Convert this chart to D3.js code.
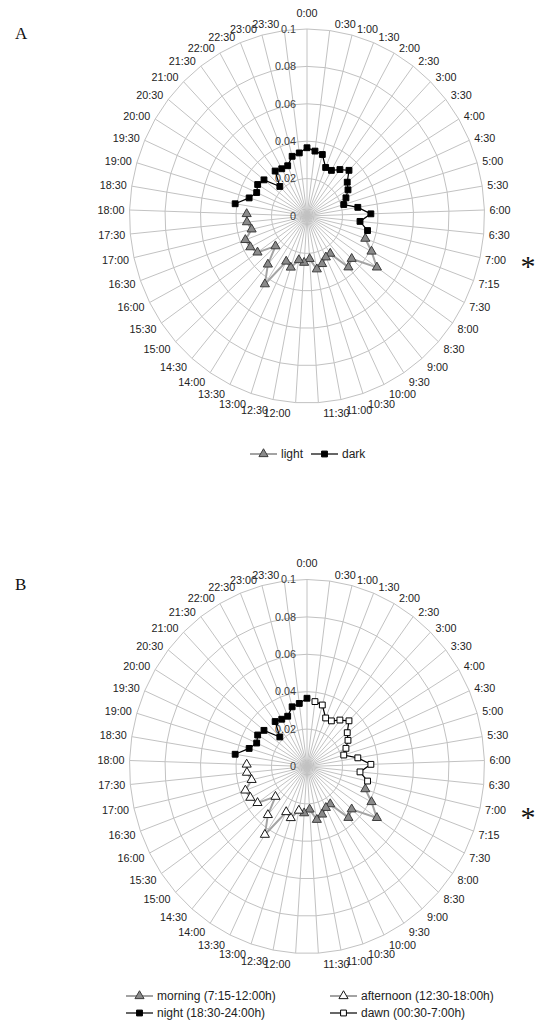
<!DOCTYPE html>
<html>
<head>
<meta charset="utf-8">
<script src="https://cdn.jsdelivr.net/npm/d3@7"></script>
<style>
	body { margin: 0; background: #fff; }
	svg { display: block; }
</style>
</head>
<body>
<div id="chart"></div>
<script>
// categories (half-hour bins, 7:15 extra)
const categories = ["0:00","0:30","1:00","1:30","2:00","2:30","3:00","3:30","4:00","4:30",
	"5:00","5:30","6:00","6:30","7:00","7:15","7:30","8:00","8:30","9:00","9:30","10:00",
	"10:30","11:00","11:30","12:00","12:30","13:00","13:30","14:00","14:30","15:00","15:30",
	"16:00","16:30","17:00","17:30","18:00","18:30","19:00","19:30","20:00","20:30","21:00",
	"21:30","22:00","22:30","23:00","23:30"];

// value per category
const values = [0.0365,0.035,0.034,0.028,0.028,0.031,0.034,0.029,0.027,0.024,
	0.0216,0.029,0.036,0.030,0.035,0.035,0.041,0.048,0.034,0.036,0.024,0.0245,
	0.027,0.029,0.023,0.025,0.024,0.029,0.027,0.0435,0.034,0.024,0.034,
	0.036,0.037,0.032,0.034,0.034,0.041,0.034,0.031,0.0325,0.031,0.022,
	0.030,0.029,0.029,0.033,0.034];

const ticks = [0, 0.02, 0.04, 0.06, 0.08, 0.1];
const tickLabels = ["0", "0.02", "0.04", "0.06", "0.08", "0.1"];

// series as category spans (wrapping past midnight)
const seriesA = [
	{ name: "light", from: "7:15", to: "18:00", style: "grayTri" },
	{ name: "dark", from: "18:30", to: "7:00", style: "blackSq" }
];
const seriesB = [
	{ name: "morning (7:15-12:00h)", from: "7:15", to: "12:00", style: "grayTri" },
	{ name: "afternoon (12:30-18:00h)", from: "12:30", to: "18:00", style: "whiteTri" },
	{ name: "night (18:30-24:00h)", from: "18:30", to: "0:00", style: "blackSq" },
	{ name: "dawn (00:30-7:00h)", from: "0:30", to: "7:00", style: "whiteSq" }
];

const STYLES = {
	grayTri:  { line: "#a3a3a3", lw: 2,   shape: d3.symbolTriangle, size: 36, fill: "#8a8a8a", stroke: "#3c3c3c" },
	whiteTri: { line: "#a3a3a3", lw: 2,   shape: d3.symbolTriangle, size: 36, fill: "#fff",    stroke: "#1a1a1a" },
	blackSq:  { line: "#000",    lw: 1.2, shape: d3.symbolSquare,   size: 34, fill: "#000",    stroke: "#000" },
	whiteSq:  { line: "#000",    lw: 1.2, shape: d3.symbolSquare,   size: 34, fill: "#fff",    stroke: "#000" }
};

const W = 538, H = 1024;
const FONT = "'Liberation Sans', Arial, sans-serif";

const svg = d3.select("#chart").append("svg")
	.attr("width", W)
	.attr("height", H)
	.attr("viewBox", `0 0 ${W} ${H}`);

const angle = d3.scalePoint()
	.domain(categories)
	.range([0, 2 * Math.PI * (categories.length - 1) / categories.length]);
// source image is slightly stretched vertically
const rX = d3.scaleLinear().domain([0, 0.1]).range([0, 177.5]);
const rY = d3.scaleLinear().domain([0, 0.1]).range([0, 187]);

function spanIdx(from, to) {
	const n = categories.length;
	let i = categories.indexOf(from);
	const end = categories.indexOf(to);
	const out = [i];
	while (i !== end) { i = (i + 1) % n; out.push(i); }
	return out;
}

function drawRadar(cx, cy, series) {
	const g = svg.append("g");
	const pt = (c, v) => {
		const a = angle(c);
		return [cx + rX(v) * Math.sin(a), cy - rY(v) * Math.cos(a)];
	};

	// rings
	g.selectAll(".ring")
		.data(ticks.filter(t => t > 0))
		.join("path")
		.attr("d", t => d3.line()(categories.map(c => pt(c, t))) + "Z")
		.attr("fill", "none")
		.attr("stroke", "#c2c2c2")
		.attr("stroke-width", 1);

	// spokes
	g.selectAll(".spoke")
		.data(categories)
		.join("line")
		.attr("x1", cx).attr("y1", cy)
		.attr("x2", c => pt(c, 0.1)[0])
		.attr("y2", c => pt(c, 0.1)[1])
		.attr("stroke", "#c2c2c2")
		.attr("stroke-width", 1);

	// category labels
	g.selectAll(".cat")
		.data(categories)
		.join("text")
		.each(function (c) {
			const a = angle(c), s = Math.sin(a), co = Math.cos(a);
			const [px, py] = pt(c, 0.1);
			const t = d3.select(this);
			if (Math.abs(s) < 1e-6) {
				t.attr("x", px).attr("y", py - 16).attr("text-anchor", "middle");
			} else {
				t.attr("x", px + (s > 0 ? 5 : -5))
					.attr("y", py - (co > 0 ? 6 : 11) * co)
					.attr("text-anchor", s > 0 ? "start" : "end");
			}
		})
		.attr("dy", "0.35em")
		.style("font-family", FONT)
		.style("font-size", "10.8px")
		.style("fill", "#222")
		.text(c => c);

	// value labels
	g.selectAll(".tick")
		.data(ticks)
		.join("text")
		.attr("x", cx - 11)
		.attr("y", t => cy - rY(t))
		.attr("dy", "0.35em")
		.attr("text-anchor", "end")
		.style("font-family", FONT)
		.style("font-size", "10.8px")
		.style("fill", "#3c3c3c")
		.text((t, i) => tickLabels[i]);

	// series
	series.forEach(s => {
		const st = STYLES[s.style];
		const pts = spanIdx(s.from, s.to).map(i => pt(categories[i], values[i]));
		g.append("path")
			.attr("d", d3.line()(pts))
			.attr("fill", "none")
			.attr("stroke", st.line)
			.attr("stroke-width", st.lw);
		g.selectAll(null)
			.data(pts)
			.join("path")
			.attr("transform", d => `translate(${d[0]},${d[1]})`)
			.attr("d", d3.symbol().type(st.shape).size(st.size))
			.attr("fill", st.fill)
			.attr("stroke", st.stroke)
			.attr("stroke-width", 1);
	});
}

function legendItem(s, x, y) {
	const st = STYLES[s.style];
	svg.append("line")
		.attr("x1", x).attr("x2", x + 27)
		.attr("y1", y).attr("y2", y)
		.attr("stroke", st.line)
		.attr("stroke-width", st.lw);
	svg.append("path")
		.attr("transform", `translate(${x + 13.5},${y})`)
		.attr("d", d3.symbol().type(st.shape).size(st.size))
		.attr("fill", st.fill)
		.attr("stroke", st.stroke);
	svg.append("text")
		.attr("x", x + 31)
		.attr("y", y)
		.attr("dy", "0.35em")
		.style("font-family", FONT)
		.style("font-size", "12px")
		.style("fill", "#222")
		.text(s.name);
}

function panelMarks(letter, cy) {
	svg.append("text")
		.attr("x", 15)
		.attr("y", cy - 177)
		.style("font-family", "'Liberation Serif', 'Times New Roman', serif")
		.style("font-size", "17px")
		.style("fill", "#111")
		.text(letter);
	svg.append("text")
		.attr("x", 528)
		.attr("y", cy + 60)
		.attr("text-anchor", "middle")
		.style("font-family", "'Liberation Serif', 'Times New Roman', serif")
		.style("font-size", "30px")
		.style("fill", "#111")
		.text("*");
}

// panel A
drawRadar(307, 216, seriesA);
panelMarks("A", 216);
legendItem(seriesA[0], 250, 454);
legendItem(seriesA[1], 311, 454);

// panel B
drawRadar(307, 766.5, seriesB);
panelMarks("B", 766.5);
legendItem(seriesB[0], 126, 996);
legendItem(seriesB[1], 330, 996);
legendItem(seriesB[2], 126, 1013);
legendItem(seriesB[3], 330, 1013);
</script>
</body>
</html>
